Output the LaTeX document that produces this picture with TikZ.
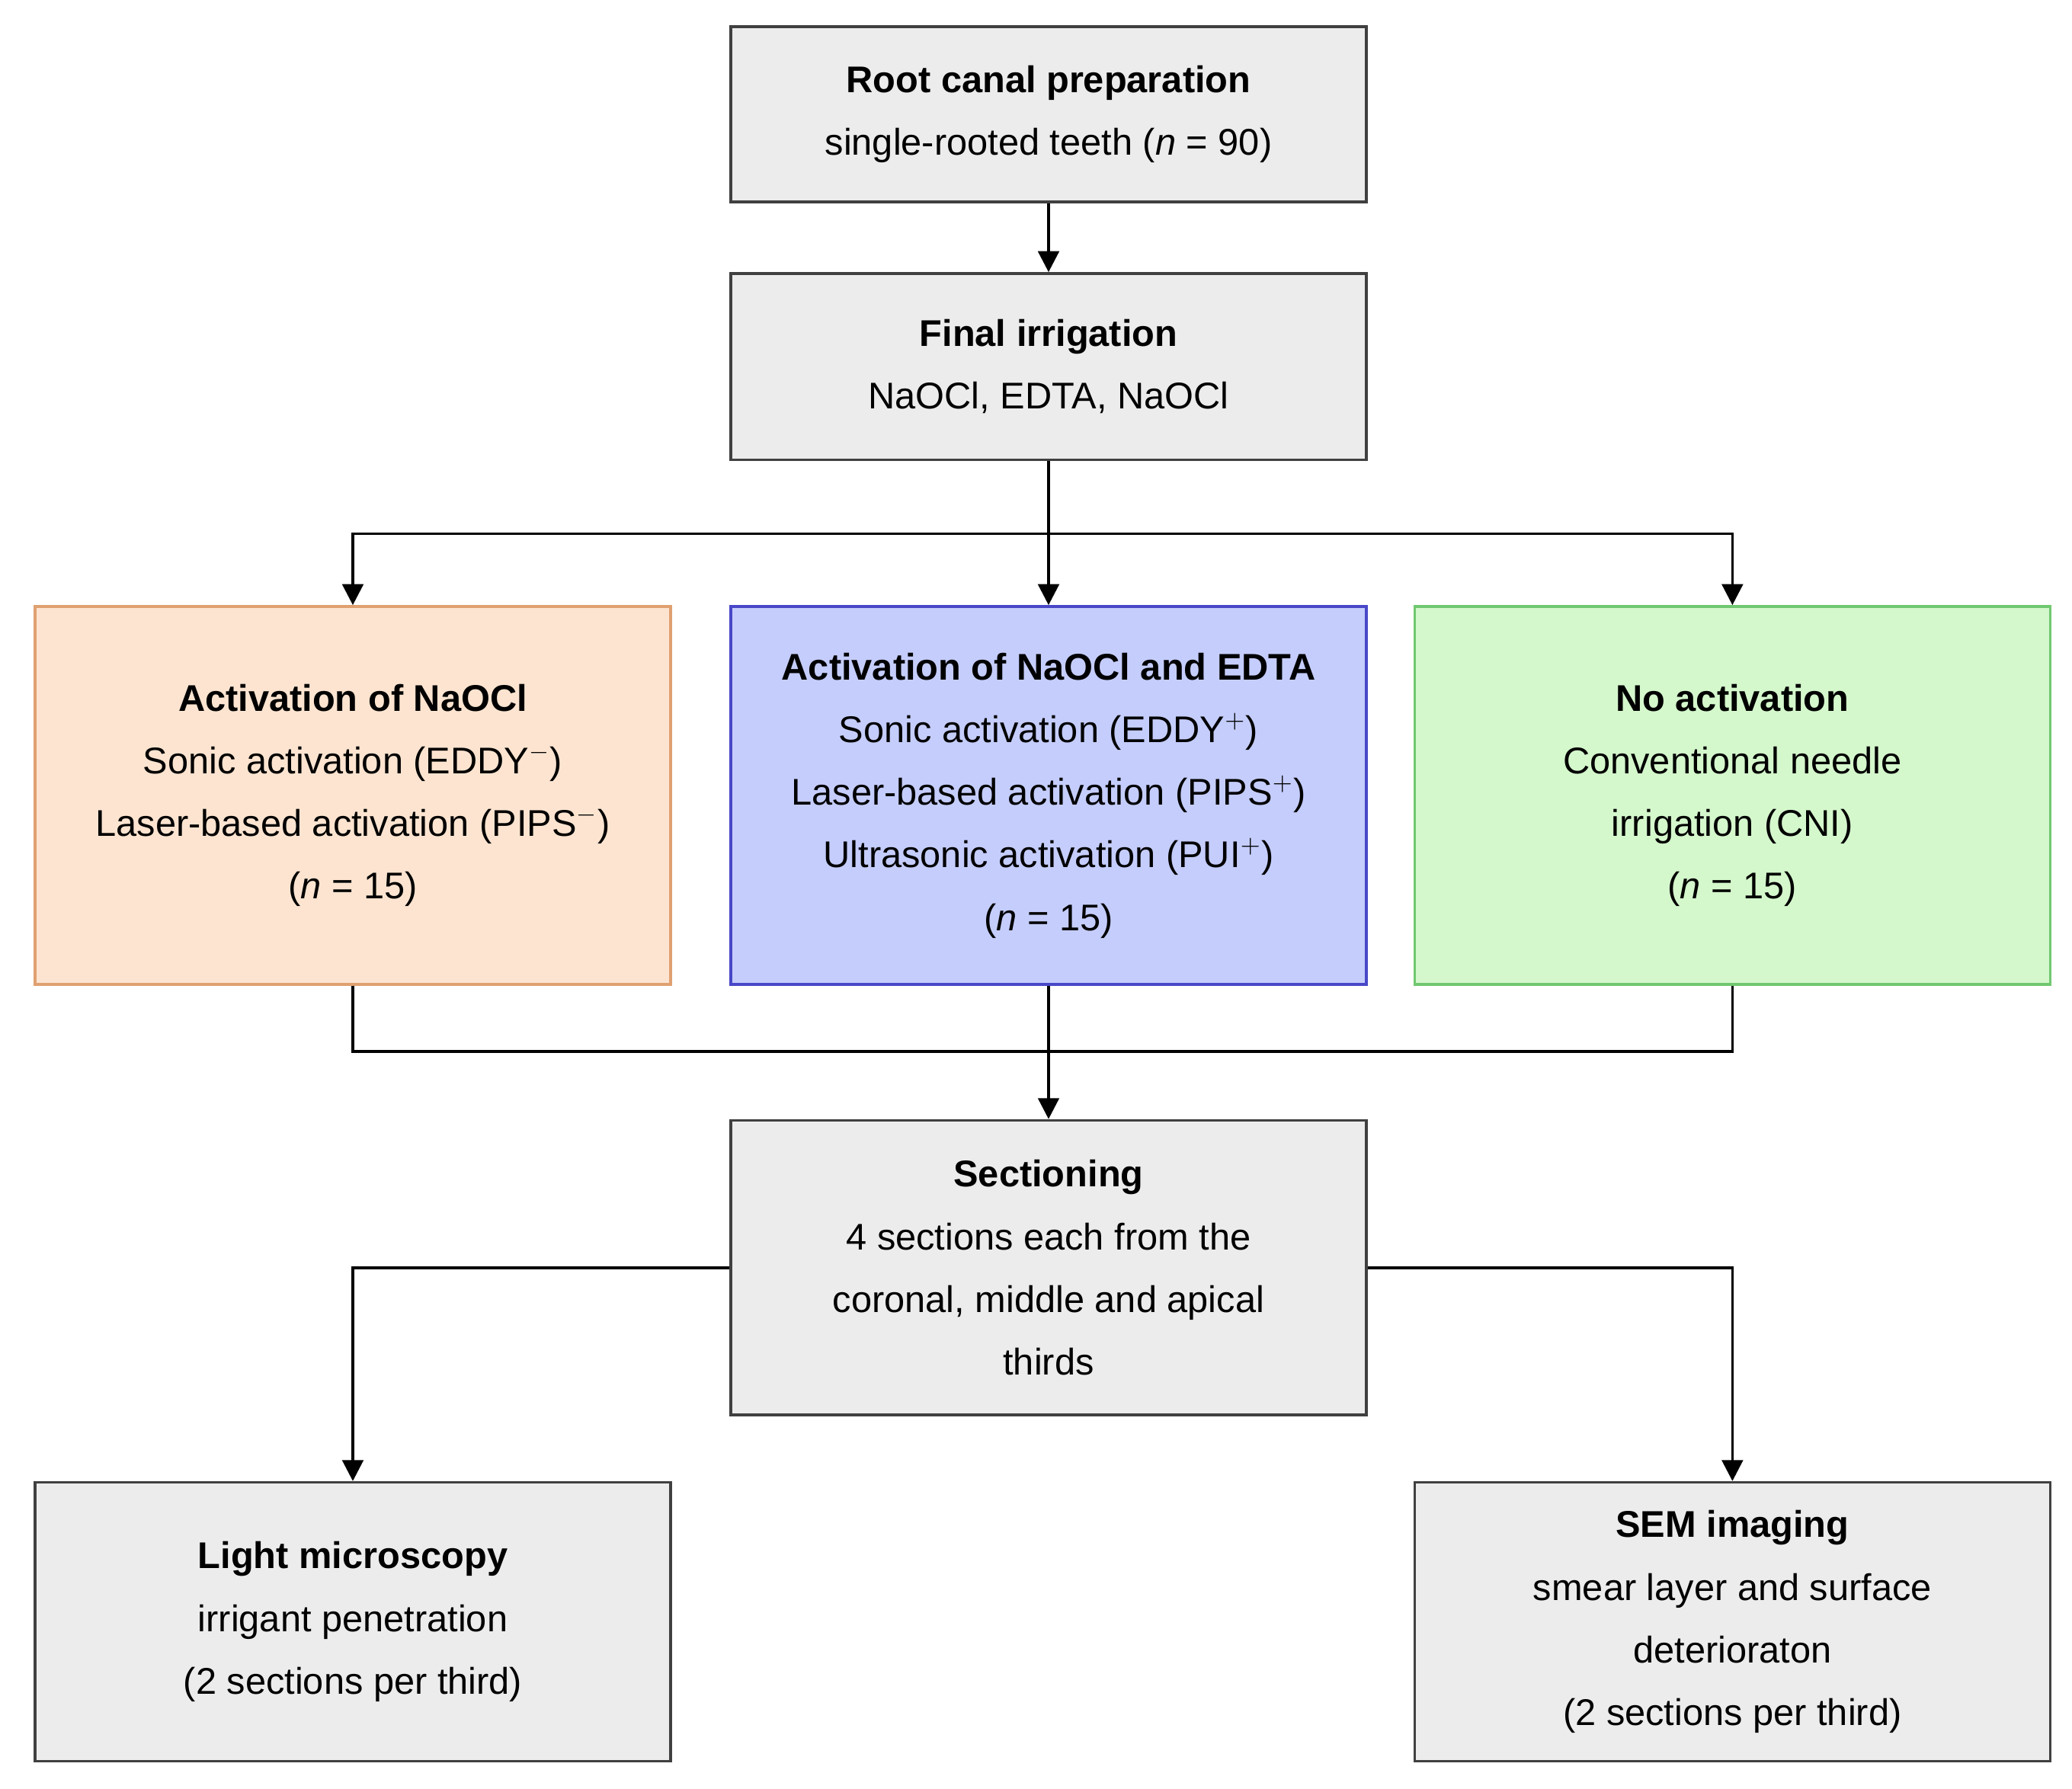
\documentclass[tikz,border=0pt]{standalone}
\usepackage{fontspec}
\setmainfont{Liberation Sans}
\usetikzlibrary{arrows.meta}
\definecolor{gfill}{HTML}{ECECEC}
\definecolor{ofill}{HTML}{FCE4D0}\definecolor{oline}{HTML}{E0A070}
\definecolor{bfill}{HTML}{C5CDFC}\definecolor{bline}{HTML}{4848C8}
\definecolor{grfill}{HTML}{D4F7CC}\definecolor{grline}{HTML}{70C870}
\begin{document}
\begin{tikzpicture}[x=0.02cm,y=-0.02cm,
  box/.style={draw=black!75,line width=1.2pt,fill=gfill,minimum width=9.62cm,align=center,inner sep=0pt,font=\fontsize{16}{27}\selectfont},
  arr/.style={line width=1.2pt,-{Triangle[length=9pt,width=9pt]}},
  ln/.style={line width=1.2pt}]
\useasboundingbox (0,0) rectangle (1568,1354);
\node[box,minimum height=2.66cm] (root) at (793.5,86.5) {\textbf{Root canal preparation}\\single-rooted teeth (\textit{n} = 90)};
\node[box,minimum height=2.82cm] (final) at (793.5,277.5) {\textbf{Final irrigation}\\NaOCl, EDTA, NaOCl};
\node[box,minimum height=5.72cm,fill=ofill,draw=oline] (orange) at (267,602) {\textbf{Activation of NaOCl}\\Sonic activation (EDDY$^{-}$)\\Laser-based activation (PIPS$^{-}$)\\(\textit{n} = 15)};
\node[box,minimum height=5.72cm,fill=bfill,draw=bline] (blue) at (793.5,602) {\textbf{Activation of NaOCl and EDTA}\\Sonic activation (EDDY$^{+}$)\\Laser-based activation (PIPS$^{+}$)\\Ultrasonic activation (PUI$^{+}$)\\(\textit{n} = 15)};
\node[box,minimum height=5.72cm,fill=grfill,draw=grline] (green) at (1311,602) {\textbf{No activation}\\Conventional needle\\irrigation (CNI)\\(\textit{n} = 15)};
\node[box,minimum height=4.46cm] (section) at (793.5,959.5) {\textbf{Sectioning}\\4 sections each from the\\coronal, middle and apical\\thirds};
\node[box,minimum height=4.22cm] (light) at (267,1227.5) {\textbf{Light microscopy}\\irrigant penetration\\(2 sections per third)};
\node[box,minimum height=4.22cm] (sem) at (1311,1227.5) {\textbf{SEM imaging}\\smear layer and surface\\deterioraton\\(2 sections per third)};
\coordinate (b) at (793.5,404);
\coordinate (m) at (793.5,796);
\draw[arr] (root) -- (final);
\draw[arr] (final) -- (blue);
\draw[arr] (b) -| (orange.north);
\draw[arr] (b) -| (green.north);
\draw[ln] (orange.south) |- (m) -| (green.south);
\draw[arr] (blue.south) -- (section.north);
\draw[arr] (section.west) -| (light.north);
\draw[arr] (section.east) -| (sem.north);
\end{tikzpicture}
\end{document}
